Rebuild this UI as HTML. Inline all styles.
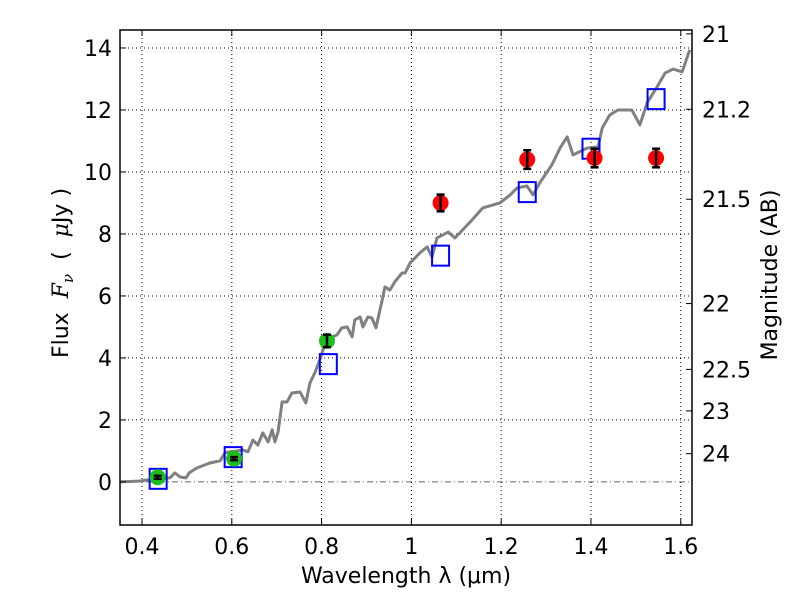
<!DOCTYPE html>
<html><head><meta charset="utf-8"><style>
body{margin:0;background:#fff;}
svg text{font-family:"DejaVu Sans","Liberation Sans",sans-serif;fill:#000;}
</style></head><body>
<svg id="chart" width="800" height="600" xmlns="http://www.w3.org/2000/svg">
<rect width="800" height="600" fill="#fff"/>
<g id="grid"></g><g id="spec"></g><g id="marks"></g><g id="axes"></g>
</svg>
<script>
const specLam=[0.351,0.396,0.429,0.462,0.473,0.485,0.498,0.505,0.522,0.551,0.574,0.585,0.625,0.636,0.647,0.658,0.669,0.681,0.690,0.696,0.703,0.712,0.723,0.734,0.752,0.765,0.774,0.785,0.796,0.808,0.823,0.834,0.845,0.857,0.868,0.874,0.886,0.892,0.903,0.912,0.921,0.935,0.941,0.952,0.963,0.979,0.986,0.997,1.019,1.035,1.046,1.057,1.082,1.097,1.135,1.159,1.197,1.220,1.235,1.257,1.271,1.286,1.313,1.331,1.347,1.360,1.391,1.416,1.425,1.442,1.460,1.491,1.509,1.525,1.547,1.565,1.583,1.603,1.620];
const specFlux=[0,0.03,0.10,0.13,0.29,0.16,0.13,0.29,0.45,0.61,0.68,0.94,1.03,0.97,1.35,1.19,1.58,1.29,1.68,1.29,1.61,2.58,2.58,2.87,2.90,2.55,3.19,3.52,3.94,4.48,4.68,4.74,4.97,5.00,4.68,5.23,5.32,5.00,5.32,5.29,4.97,5.87,6.29,6.19,6.45,6.74,6.74,7.06,7.39,7.58,7.26,7.87,8.06,7.87,8.45,8.84,9.00,9.26,9.48,9.55,9.26,9.65,10.23,10.77,11.13,10.55,10.77,10.81,11.42,11.84,12.00,12.00,11.52,12.23,12.74,13.19,13.32,13.23,13.94];
const greenLam=[0.435,0.605,0.812];
const greenFlux=[0.15,0.75,4.55];
const greenErr=[0.05,0.05,0.2];
const redLam=[1.065,1.258,1.408,1.545];
const redFlux=[9.0,10.4,10.45,10.45];
const redErr=[0.27,0.3,0.3,0.3];
const modelLam=[0.436,0.603,0.815,1.065,1.258,1.400,1.545];
const modelFlux=[0.1,0.8,3.8,7.3,9.35,10.75,12.35];
const xTicks=[0.4,0.6,0.8,1.0,1.2,1.4,1.6];
const xTickLabels=["0.4","0.6","0.8","1","1.2","1.4","1.6"];
const yTicks=[0,2,4,6,8,10,12,14];
const magTicks=[21,21.2,21.5,22,22.5,23,24];
const magTickLabels=["21","21.2","21.5","22","22.5","23","24"];

const L=120,R=692,T=30,B=525;
const xmin=0.351,xmax=1.625,ymin=-1.39,ymax=14.58;
const X=v=>L+(v-xmin)/(xmax-xmin)*(R-L);
const Y=v=>B-(v-ymin)/(ymax-ymin)*(B-T);
const NS="http://www.w3.org/2000/svg";
function mk(tag,parent,attrs){const e=document.createElementNS(NS,tag);for(const k in attrs)e.setAttribute(k,attrs[k]);document.getElementById(parent).appendChild(e);return e;}

xTicks.forEach((t,i)=>{
 const g=mk('line','grid',{x1:X(t),x2:X(t),y1:T,y2:B,stroke:'#000','stroke-width':1,'stroke-dasharray':'1,3'});
 
 
 mk('line','axes',{x1:X(t),x2:X(t),y1:B,y2:B-6,stroke:'#000'});
 mk('line','axes',{x1:X(t),x2:X(t),y1:T,y2:T+6,stroke:'#000'});
 const tx=mk('text','axes',{x:X(t),y:B+29,'font-size':22,'text-anchor':'middle'});tx.textContent=xTickLabels[i];
 
 
});
yTicks.forEach(t=>{
 const g=mk('line','grid',{x1:L,x2:R,y1:Y(t),y2:Y(t),stroke:'#000','stroke-width':1,'stroke-dasharray':t===0?'6,3,1,3':'1,3',opacity:t===0?0.6:1});
 
 
 mk('line','axes',{x1:L,x2:L+6,y1:Y(t),y2:Y(t),stroke:'#000'});
 const tx=mk('text','axes',{x:L-8,y:Y(t)+8,'font-size':22,'text-anchor':'end'});tx.textContent=String(t);
 
 
});
magTicks.forEach((m,i)=>{
 const f=Math.pow(10,(23.9-m)/2.5);
 mk('line','axes',{x1:R,x2:R-6,y1:Y(f),y2:Y(f),stroke:'#000'});
 const tx=mk('text','axes',{x:R+10,y:Y(f)+8,'font-size':22,'text-anchor':'start'});tx.textContent=magTickLabels[i];
 
 
});

const sp=mk('polyline','spec',{points:specLam.map((l,i)=>X(l)+','+Y(specFlux[i])).join(' '),fill:'none',stroke:'#808080','stroke-width':3,'stroke-linejoin':'round'});



function pts(lams,fl,errs,color,name){
 lams.forEach((l,i)=>{
  const c=mk('circle','marks',{cx:X(l),cy:Y(fl[i]),r:8,fill:color});
  
  
  const y1=Y(fl[i]-errs[i]),y2=Y(fl[i]+errs[i]);
  mk('line','marks',{x1:X(l),x2:X(l),y1:y1,y2:y2,stroke:'#000','stroke-width':2.5});
  mk('line','marks',{x1:X(l)-4,x2:X(l)+4,y1:y1,y2:y1,stroke:'#000','stroke-width':2.5});
  mk('line','marks',{x1:X(l)-4,x2:X(l)+4,y1:y2,y2:y2,stroke:'#000','stroke-width':2.5});
 });
}
modelLam.forEach((l,i)=>{
 const r=mk('rect','marks',{x:X(l)-8.5,y:Y(modelFlux[i])-10,width:17,height:20,fill:'none',stroke:'#0000ff','stroke-width':2});
 
 
});
pts(greenLam,greenFlux,greenErr,'#1bbf1b','green-data-point');
pts(redLam,redFlux,redErr,'#ff0000','red-data-point');

const fr=mk('rect','axes',{x:L,y:T,width:R-L,height:B-T,fill:'none',stroke:'#000','stroke-width':1.5});


let t=mk('text','axes',{x:406,y:583,'font-size':22,'text-anchor':'middle','xml:space':'preserve'});t.textContent='Wavelength  λ (μm)';


t=mk('text','axes',{x:0,y:0,'font-size':22,'text-anchor':'middle',transform:'translate(68,273) rotate(-90)'});
t.innerHTML='Flux&#160;&#160;<tspan font-style="italic" font-family="DejaVu Serif, serif">F</tspan><tspan font-style="italic" font-family="DejaVu Serif, serif" font-size="15" dy="5">ν</tspan><tspan dy="-5">&#160;&#160;(&#160;&#160;<tspan font-style="italic" font-family="DejaVu Serif, serif">μ</tspan>Jy )</tspan>';


t=mk('text','axes',{x:0,y:0,'font-size':22,'text-anchor':'middle',transform:'translate(777,275) rotate(-90)'});t.textContent='Magnitude (AB)';


</script>
</body></html>
